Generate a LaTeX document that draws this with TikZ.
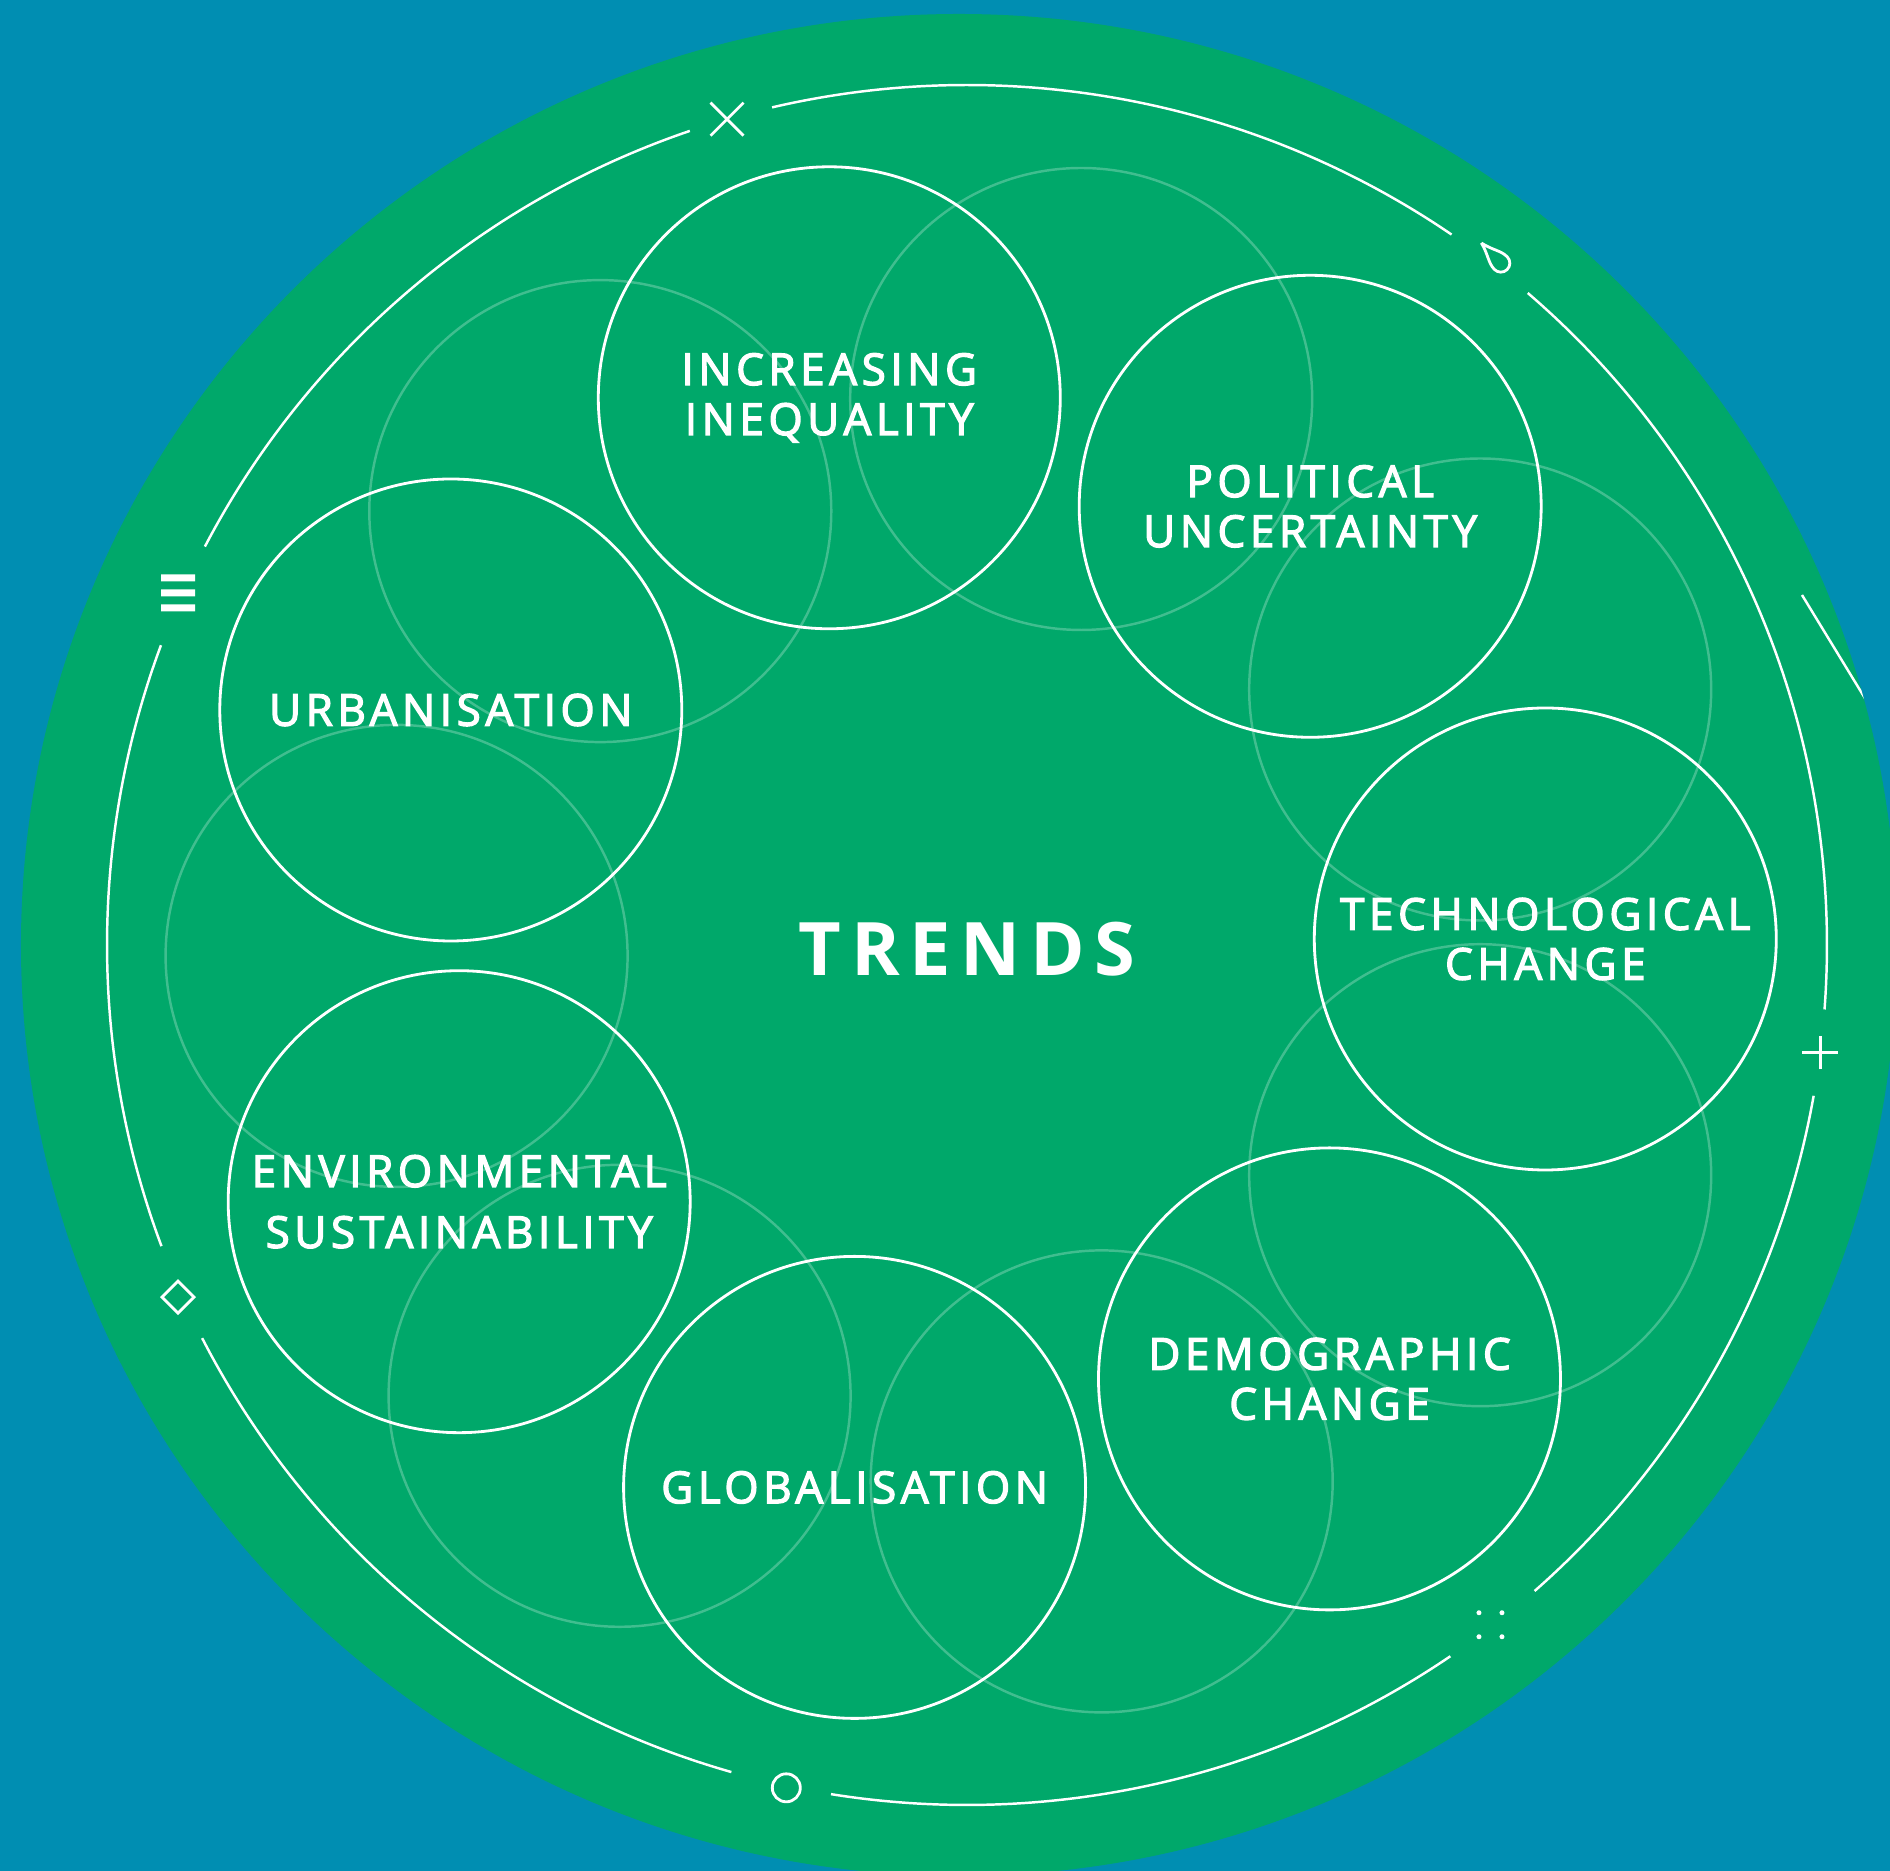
\documentclass[tikz,border=0pt]{standalone}
\usepackage{fontspec}
\setmainfont{Open Sans}
\newfontfamily\labelfont{Open Sans}[LetterSpace=10.5,FakeBold=3]
\newfontfamily\titlefont{Open Sans}[LetterSpace=13]
\definecolor{trendblue}{RGB}{0,142,178}
\definecolor{trendgreen}{RGB}{0,168,106}
\colorlet{faintline}{white!25!trendgreen}

\begin{document}
\begin{tikzpicture}[trend/.style = {circle,draw=white,line width=0.8pt,minimum size=4.62cm,inner sep=0pt,
  text=white,align=center,font=\labelfont\fontsize{12.5}{14.2}\selectfont},
  ghost/.style = {faintline,line width=0.7pt},
  ring/.style = {white,line width=0.7pt},
  sign/.style = {white,line width=0.8pt}]
\fill[trendblue] (-9.67,-9.26) rectangle (9.23,9.45);
\useasboundingbox (-9.67,-9.26) rectangle (9.23,9.45);
\fill[trendgreen] (-0.08,0) ellipse [x radius=9.38, y radius=9.31];
\draw[ghost] (1.142,5.460) circle (2.31);
\draw[ghost] (5.132,2.555) circle (2.31);
\draw[ghost] (5.132,-2.302) circle (2.31);
\draw[ghost] (1.347,-5.364) circle (2.31);
\draw[ghost] (-3.474,-4.508) circle (2.31);
\draw[ghost] (-5.704,-0.109) circle (2.31);
\draw[ghost] (-3.667,4.339) circle (2.31);
\node[trend] (techchange) at (5.783,0.060) {TECHNOLOGICAL\\CHANGE};
\node[trend] (political) at (3.432,4.387) {POLITICAL\\UNCERTAINTY};
\node[trend] (inequality) at (-1.377,5.472) {INCREASING\\INEQUALITY};
\node[trend] (urban) at (-5.162,2.350) {URBANISATION};
\node[trend] (environment) at (-5.078,-2.567) {ENVIRONMENTAL\\[0.11cm]SUSTAINABILITY};
\node[trend] (global) at (-1.124,-5.424) {GLOBALISATION};
\node[trend] (demographic) at (3.625,-4.339) {DEMOGRAPHIC\\CHANGE};
\node[text=white,font=\titlefont\bfseries\fontsize{21}{25}\selectfont] (trends) at (0,-0.04) {TRENDS};
\draw[ring] (-4.3:8.6) arc [start angle=-4.3, end angle=49.3, radius=8.6];
\draw[ring] (55.7:8.6) arc [start angle=55.7, end angle=103.1, radius=8.6];
\draw[ring] (108.8:8.6) arc [start angle=108.8, end angle=152.4, radius=8.6];
\draw[ring] (159.6:8.6) arc [start angle=159.6, end angle=200.5, radius=8.6];
\draw[ring] (207.2:8.6) arc [start angle=207.2, end angle=254.1, radius=8.6];
\draw[ring] (260.9:8.6) arc [start angle=260.9, end angle=304.2, radius=8.6];
\draw[ring] (311.3:8.6) arc [start angle=311.3, end angle=349.9, radius=8.6];
\begin{scope}
\clip (-0.08,0) ellipse [x radius=9.38, y radius=9.31];
\draw[ring] (8.35,3.50) -- (9.1,2.27);
\end{scope}
\draw[sign] (106.2:8.6) +(-0.165,-0.165) -- +(0.165,0.165) +(-0.165,0.165) -- +(0.165,-0.165);
\begin{scope}[shift={(52.4:8.67)},rotate=44]
\draw[sign] (0,0.21) .. controls (0.03,0.08) and (0.09,0.02) .. (0.09,-0.07)
  arc [start angle=0, end angle=-180, radius=0.09] .. controls (-0.09,0.02) and (-0.03,0.08) .. (0,0.21);
\end{scope}
\draw[sign] (-7.2:8.6) +(-0.18,0) -- +(0.18,0) +(0,-0.165) -- +(0,0.165);
\fill[white] (-52.4:8.58) +(-0.115,0.12) circle (0.025) +(0.115,0.12) circle (0.025)
  +(-0.115,-0.12) circle (0.025) +(0.115,-0.12) circle (0.025);
\draw[sign] (-102.1:8.62) circle (0.14);
\draw[sign] (204.05:8.64) +(0,0.16) -- +(0.16,0) -- +(0,-0.16) -- +(-0.16,0) -- cycle;
\fill[white] (155.95:8.64) +(-0.17,0.185) rectangle +(0.17,0.115) +(-0.17,0.035) rectangle +(0.17,-0.035)
  +(-0.17,-0.115) rectangle +(0.17,-0.185);
\end{tikzpicture}
\end{document}
